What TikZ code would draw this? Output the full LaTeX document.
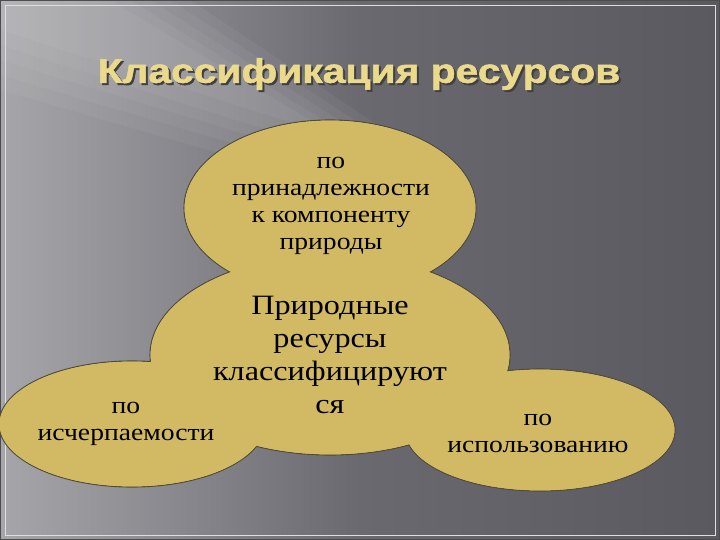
\documentclass[tikz,border=0pt]{standalone}
\usepackage{fontspec}
\setmainfont{Liberation Serif}[FakeStretch=1.15]
\newfontfamily\titlefont{Liberation Sans}[FakeStretch=1.2,BoldFeatures={FakeBold=1.6}]
\usetikzlibrary{shapes.geometric,fadings}
\definecolor{khaki}{RGB}{210,186,100}
\definecolor{khakiedge}{RGB}{80,74,56}
\definecolor{titlecol}{RGB}{235,218,140}
\definecolor{bgleft}{RGB}{166,166,170}
\definecolor{bgmid}{RGB}{106,105,112}
\definecolor{bgright}{RGB}{90,89,96}
\tikzset{
  blob/.style={ellipse, fill=khaki, draw=khakiedge, line width=1.1pt, inner sep=0pt},
  lbl/.style={align=center, text=black, font=\fontsize{24}{27}\selectfont},
  biglbl/.style={align=center, text=black, font=\fontsize{28}{33}\selectfont},
  streak/.style={white, fill opacity=0.045},
  titlestyle/.style={font=\titlefont\bfseries\fontsize{34}{40}\selectfont},
}
\begin{document}
\begin{tikzpicture}[x=1pt,y=-1pt]
\useasboundingbox (0,0) rectangle (720,540);
% background
\shade[left color=bgleft, right color=bgright, middle color=bgmid] (0,0) rectangle (720,540);
\fill[streak] (0,0) -- (190,0) -- (400,140) -- (330,185) -- (0,90) -- cycle;
\fill[streak] (0,0) -- (170,0) -- (385,140) -- (330,172) -- (0,75) -- cycle;
\fill[streak] (0,0) -- (150,0) -- (370,140) -- (330,160) -- (0,60) -- cycle;
\fill[streak] (0,0) -- (130,0) -- (355,140) -- (330,150) -- (0,45) -- cycle;
\fill[streak] (0,0) -- (110,0) -- (340,138) -- (0,30) -- cycle;
\draw[black!70, line width=1.5pt] (0,0) rectangle (720,540);
\draw[white!75!gray, line width=0.6pt] (5,5) rectangle (715,535);
% title
\node (titleshadow) [titlestyle, text=black!75] at (361,76) {Классификация ресурсов};
\node (title) [titlestyle, text=titlecol] at (359,74) {Классификация ресурсов};
% ellipse outlines
\node (top) [blob, minimum width=292, minimum height=176] at (330,208) {};
\node (mid) [blob, minimum width=360, minimum height=200] at (330,355) {};
\node (left) [blob, minimum width=266, minimum height=126] at (132,424) {};
\node (right) [blob, minimum width=270, minimum height=122] at (540,430) {};
% refill to hide inner borders
\fill[khaki] (top.center) ellipse [x radius=145.4, y radius=87.4];
\fill[khaki] (mid.center) ellipse [x radius=179.4, y radius=99.4];
\fill[khaki] (left.center) ellipse [x radius=132.4, y radius=62.4];
\fill[khaki] (right.center) ellipse [x radius=134.4, y radius=60.4];
% texts
\node (ttop) [lbl] at (331,206) {по\\принадлежности\\к компоненту\\природы};
\node (tmid) [biglbl] at (330,355) {Природные\\ресурсы\\классифицируют\\ся};
\node (tleft) [lbl] at (126,424) {по\\исчерпаемости};
\node (tright) [lbl] at (538,433) {по\\использованию};
\end{tikzpicture}
\end{document}
